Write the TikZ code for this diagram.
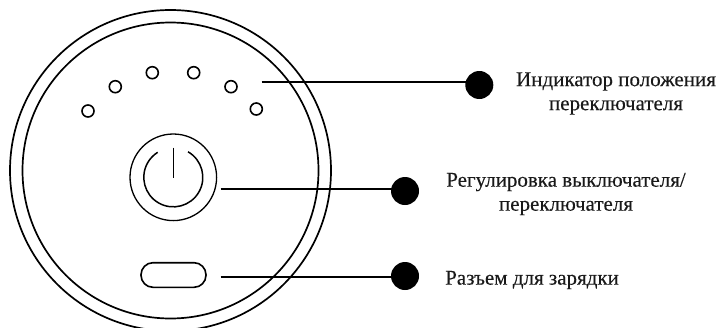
\documentclass[tikz,border=0pt]{standalone}
\usepackage{fontspec}
\setmainfont[FakeBold=0.25]{Liberation Serif}
\usepackage{tikz}
\newcommand{\xC}{170.5}
\newcommand{\yC}{170.5}
\newcommand{\xP}{173.3}
\newcommand{\yP}{177.3}
\tikzset{
  led/.style={circle,draw=black,line width=1.6pt,minimum size=12pt,inner sep=0pt},
  bulb/.style={circle,fill=black,minimum size=28pt,inner sep=0pt},
  leader/.style={black,line width=2pt},
  caption/.style={font=\fontsize{21}{24}\selectfont,align=center,text=black!90,inner sep=0pt},
}

\begin{document}
\begin{tikzpicture}[x=1pt,y=-1pt]
\useasboundingbox (0,0) rectangle (720,327);
\clip (0,0) rectangle (720,327);

%% ---------------- housing ----------------
\draw[line width=1.7pt] (\xC,\yC) circle (160.5pt);
\draw[line width=1.7pt] (\xC,\yC) circle (148pt);

%% ---------------- switch position lamps ----------------
\foreach \n/\x/\y in {1/88/111,2/115.3/86.7,3/152.3/72.7,4/193.7/72.7,5/231/86.7,6/256.3/109}
  \node[led] (lamp\n) at (\x,\y) {};

%% ---------------- power button ----------------
\draw[line width=1.3pt] (\xP,\yP) circle (43.3pt);
\draw[line width=1.5pt] (\xP,\yP) ++(14.75,-25.5) arc[start angle=60,end angle=-238,radius=29.5pt];
\draw[line width=1.5pt] (\xP,147.7) -- (\xP,178);

%% ---------------- charging port ----------------
\draw[line width=1.6pt,rounded corners=12pt] (141,262.7) rectangle (206,287.3);

%% ---------------- leaders ----------------
\node[bulb] (bulbA) at (479.3,85) {};
\node[bulb] (bulbB) at (405,191) {};
\node[bulb] (bulbC) at (405,276) {};
\coordinate (startA) at (261.7,82);
\coordinate (startB) at (220.7,189);
\coordinate (startC) at (220.7,277);
\draw[leader] (startA) -- (bulbA.center |- startA);
\draw[leader] (startB) -- (bulbB.center |- startB);
\draw[leader] (startC) -- (bulbC.center |- startC);

%% ---------------- captions ----------------
\node[caption] (textA) at (616,93.5) {Индикатор положения\\переключателя};
\node[caption] (textB) at (566,194) {Регулировка выключателя/\\переключателя};
\node[caption,anchor=west] (textC) at (445,280) {Разъем для зарядки};

\end{tikzpicture}
\end{document}
